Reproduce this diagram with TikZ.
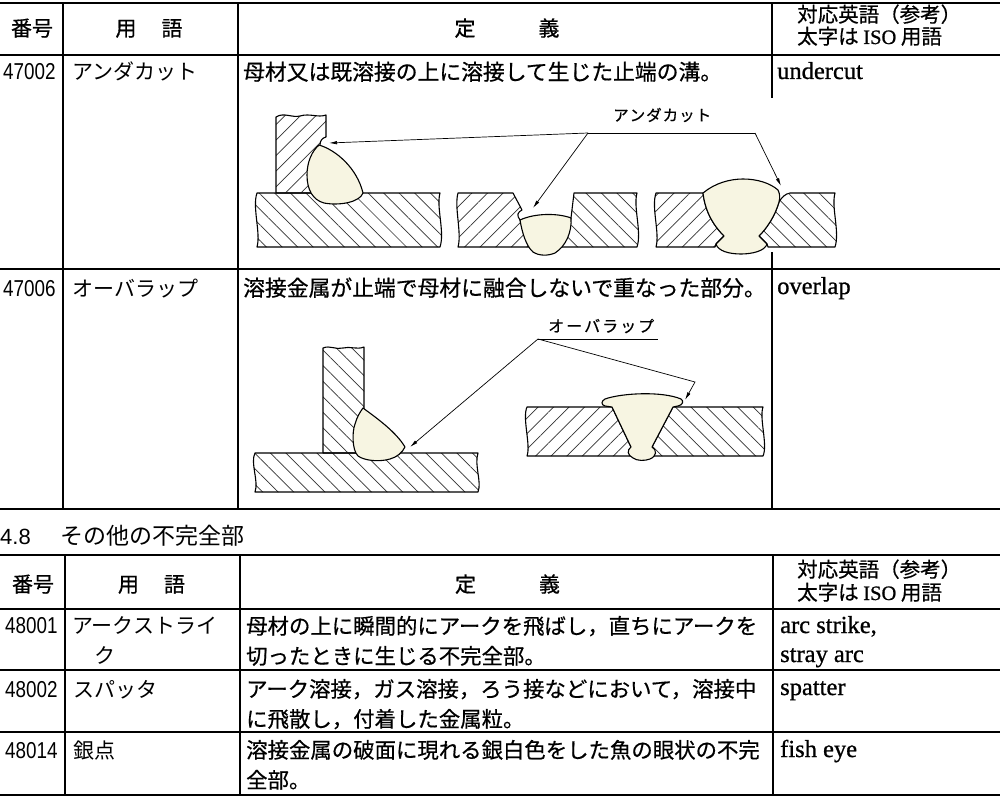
\documentclass[tikz,border=0pt]{standalone}
\usepackage{fontspec}
\setmainfont{Liberation Serif}
\newfontfamily\jpfont[FakeBold=0.6]{Noto Sans CJK JP}
\newfontfamily\jplfont{Noto Sans CJK JP}
\newfontfamily\enfont[FakeBold=0.9]{Liberation Serif}
\newfontfamily\numfont{Liberation Sans}
\usetikzlibrary{patterns.meta,arrows.meta}
\definecolor{weldc}{RGB}{247,245,226}
\newcommand{\spc}{\hspace{1pt}}
\newcommand{\spo}{\hspace{2pt}}
\begin{document}
\begin{tikzpicture}[x=1pt,y=-1pt,
  outl/.style={draw=black,line width=1.1pt,line join=round},
  hatchA/.style={outl,pattern={Lines[angle=45,distance=11pt,line width=0.7pt]},pattern color=black!80},
  hatchB/.style={outl,pattern={Lines[angle=-45,distance=11pt,line width=0.7pt]},pattern color=black!80},
  weld/.style={draw=black,line width=1.1pt,fill=weldc,line join=round},
  lead/.style={draw=black,line width=0.7pt},
  arr/.style={lead,-{Latex[length=8pt,width=3.5pt]}},
  rulethick/.style={line width=2pt},
  rulen/.style={line width=1.4pt},
  vrule/.style={line width=1.3pt},
  hd/.style={inner sep=0pt,anchor=base,font=\jpfont\fontsize{21}{21}\selectfont},
  hdr/.style={inner sep=0pt,anchor=base west,font=\jpfont\fontsize{20.5}{20.5}\selectfont},
  term/.style={inner sep=0pt,anchor=base west,font=\jplfont\fontsize{21}{21}\selectfont},
  deff/.style={inner sep=0pt,anchor=base west,font=\jpfont\fontsize{21.8}{21.8}\selectfont},
  deftwo/.style={inner sep=0pt,anchor=base west,font=\jpfont\fontsize{21.4}{21.4}\selectfont},
  en/.style={inner sep=0pt,anchor=base west,font=\enfont\fontsize{24.5}{24.5}\selectfont},
  num/.style={inner sep=0pt,anchor=base west,font=\numfont\fontsize{23}{23}\selectfont},
  lbl/.style={inner sep=0pt,anchor=west,font=\jpfont\fontsize{15.5}{15.5}\selectfont},
  sec/.style={inner sep=0pt,anchor=base west,font=\jplfont\fontsize{23}{23}\selectfont}
]
\useasboundingbox (0,0) rectangle (1000,805);
\fill[white] (0,0) rectangle (1000,805);

% ===== Table 1 rules =====
\draw[rulethick] (0,3) -- (1000,3);
\draw[rulen] (0,55) -- (1000,55);
\draw[rulen] (0,269) -- (1000,269);
\draw[rulen] (0,509) -- (1000,509);
\draw[vrule] (63,3) -- (63,509);
\draw[vrule] (238,3) -- (238,509);
\draw[vrule] (772,3) -- (772,98);
\draw[vrule] (772,252) -- (772,509);

% header 1
\node[hd] (h1n) at (32,36) {番号};
\node[hd] (h1t) at (149,36) {用\hspace{25pt}語};
\node[hd] (h1d) at (507,36) {定\hspace{63pt}義};
\node[hdr] (h1e1) at (797,22) {対応英語（参考）};
\node[hdr] (h1e2) at (797,44) {太字は {\enfont ISO} 用語};

% row 47002
\node[num] (n1) at (3,80) {\scalebox{0.82}[1]{47002}};
\node[term] (t1) at (72,80) {アンダカット};
\node[deff] (d1) at (243,80) {母材又は既溶接の上に溶接して生じた止端の溝。};
\node[en] (e1) at (777,79) {undercut};

% row 47006
\node[num] (n2) at (3,296) {\scalebox{0.82}[1]{47006}};
\node[term] (t2) at (72,296) {オーバラップ};
\node[deff] (d2) at (243,296) {溶接金属が止端で母材に融合しないで重なった部分。};
\node[en] (e2) at (777,294) {overlap};

% ===== Figure A : T joint undercut =====
\draw[hatchB] (257,193) -- (440,193) .. controls (436,207) and (445,232) .. (440,247) -- (257,247) .. controls (261,233) and (252,207) .. (257,193) -- cycle;
\draw[hatchA] (276,193) -- (276,117) .. controls (284,112) and (292,118) .. (300,116) .. controls (310,113) and (318,118) .. (326,115) -- (326,137) .. controls (322,138) and (320,141) .. (320,145) -- (312,165) -- (314,193) -- cycle;
\draw[weld] (319,145) .. controls (336,150) and (357,168) .. (363,193) .. controls (360,202) and (340,206) .. (324,203) .. controls (313,200) and (307,190) .. (307,175) .. controls (307,162) and (312,151) .. (319,145) -- cycle;

% ===== Figure B : single V undercut =====
\draw[hatchA] (458,193) -- (513,193) -- (522,210) .. controls (518,212) and (516,215) .. (520,220) -- (525,235) -- (529,247) -- (458,247) .. controls (462,233) and (454,207) .. (458,193) -- cycle;
\draw[hatchB] (574,193) -- (637,193) .. controls (633,207) and (642,232) .. (637,247) -- (560,247) -- (567,232) -- (571,218) -- cycle;
\draw[weld] (520,220) .. controls (535,213) and (558,213) .. (571,218) .. controls (572,232) and (566,246) .. (555,253) .. controls (548,256) and (539,256) .. (533,252) .. controls (526,246) and (522,232) .. (520,220) -- cycle;

% ===== Figure C : X groove undercut =====
\draw[hatchA] (656,193) -- (703,193) .. controls (705,210) and (712,224) .. (724,236) -- (716,244) -- (715,247) -- (656,247) .. controls (660,233) and (651,207) .. (656,193) -- cycle;
\draw[hatchB] (790,193) -- (835,193) .. controls (831,207) and (840,232) .. (835,247) -- (768,247) -- (767,244) -- (759,236) .. controls (767,228) and (775,216) .. (779,202) .. controls (782,197) and (785,194) .. (790,193) -- cycle;
\draw[weld] (703,193) .. controls (715,183) and (730,179) .. (743,179) .. controls (757,179) and (770,183) .. (778,190) .. controls (780,194) and (780,198) .. (779,202) .. controls (775,216) and (767,228) .. (759,236) -- (767,244) .. controls (765,251) and (752,254) .. (741,254) .. controls (729,254) and (718,251) .. (716,244) -- (724,236) .. controls (712,224) and (705,210) .. (703,193) -- cycle;

% leaders undercut
\node[lbl] (lu) at (613,115) {ア\spc ン\spc ダ\spc カ\spc ッ\spc ト};
\coordinate (uj) at (588,133);
\coordinate (ue) at (755,133);
\coordinate (tA) at (329,143);
\coordinate (tB) at (533,208);
\coordinate (tC) at (781,186);
\draw[lead] (uj) -- (ue);
\draw[arr] (uj) -- (tA);
\draw[arr] (uj) -- (tB);
\draw[arr] (ue) -- (tC);

% ===== Figure D : T joint overlap =====
\draw[hatchB] (255,453) -- (478,453) .. controls (474,465) and (482,482) .. (478,492) -- (255,492) .. controls (259,481) and (250,463) .. (255,453) -- cycle;
\draw[hatchB] (323,453) -- (323,348) .. controls (330,345) and (336,350) .. (343,348) .. controls (350,346) and (357,350) .. (364,347) -- (364,408) -- (357,430) -- (359,453) -- cycle;
\draw[weld] (363,408) .. controls (378,419) and (396,432) .. (405,447) .. controls (402,453) and (397,457) .. (390,459) .. controls (380,462) and (365,461) .. (358,456) .. controls (352,450) and (352,432) .. (355,424) .. controls (357,417) and (360,412) .. (363,408) -- cycle;

% ===== Figure E : butt overlap =====
\draw[hatchA] (527,407) -- (612,407) -- (631,447) -- (630,456) -- (527,456) .. controls (531,445) and (522,418) .. (527,407) -- cycle;
\draw[hatchB] (673,407) -- (763,407) .. controls (759,418) and (768,445) .. (763,456) -- (653,456) -- (652,447) -- cycle;
\draw[weld] (612,407) -- (605,406) .. controls (601,405) and (601,401) .. (605,399) .. controls (622,393) and (662,391) .. (681,399) .. controls (684,401) and (683,405) .. (678,406) -- (673,407) -- (652,447) .. controls (657,450) and (657,456) .. (650,459) .. controls (645,461) and (637,461) .. (633,458) .. controls (627,455) and (627,450) .. (631,447) -- cycle;

% leaders overlap
\node[lbl,font=\jpfont\fontsize{16}{16}\selectfont] (lo) at (548,326) {オ\spo ー\spo バ\spo ラ\spo ッ\spo プ};
\coordinate (oj) at (538,339);
\coordinate (oe) at (658,339);
\coordinate (ob) at (695,382);
\coordinate (tD) at (410,447);
\coordinate (tE) at (685,400);
\draw[lead] (oj) -- (oe);
\draw[arr] (oj) -- (tD);
\draw[arr] (oj) -- (ob) -- (tE);

% ===== Section heading =====
\node[sec,font=\numfont\fontsize{22}{22}\selectfont] (s1) at (0,544) {4.8};
\node[sec] (s2) at (60,544) {その他の不完全部};

% ===== Table 2 rules =====
\draw[rulethick] (0,555) -- (1000,555);
\draw[rulen] (0,609) -- (1000,609);
\draw[rulen] (0,670) -- (1000,670);
\draw[rulen] (0,732) -- (1000,732);
\draw[rulethick] (0,795) -- (1000,795);
\draw[vrule] (65,555) -- (65,795);
\draw[vrule] (240,555) -- (240,795);
\draw[vrule] (773,555) -- (773,795);

\node[hd] (h2n) at (33,592) {番号};
\node[hd] (h2t) at (151.5,592) {用\hspace{25pt}語};
\node[hd] (h2d) at (507.5,592) {定\hspace{63pt}義};
\node[hdr] (h2e1) at (797,577) {対応英語（参考）};
\node[hdr] (h2e2) at (797,600) {太字は {\enfont ISO} 用語};

% row 48001
\node[num] (n3) at (5,633) {\scalebox{0.82}[1]{48001}};
\node[term] (t3a) at (72,633) {アークストライ};
\node[term] (t3b) at (94,663) {ク};
\node[deftwo] (d3a) at (246,634) {母材の上に瞬間的にアークを飛ばし，直ちにアークを};
\node[deftwo] (d3b) at (246,664) {切ったときに生じる不完全部。};
\node[en] (e3a) at (780,633) {arc strike,};
\node[en] (e3b) at (780,662) {stray arc};

% row 48002
\node[num] (n4) at (5,697) {\scalebox{0.82}[1]{48002}};
\node[term] (t4) at (73,697) {スパッタ};
\node[deftwo] (d4a) at (246,697) {アーク溶接，ガス溶接，ろう接などにおいて，溶接中};
\node[deftwo] (d4b) at (246,727) {に飛散し，付着した金属粒。};
\node[en] (e4) at (780,695) {spatter};

% row 48014
\node[num] (n5) at (5,758) {\scalebox{0.82}[1]{48014}};
\node[term] (t5) at (73,758) {銀点};
\node[deftwo] (d5a) at (246,758) {溶接金属の破面に現れる銀白色をした魚の眼状の不完};
\node[deftwo] (d5b) at (246,788) {全部。};
\node[en] (e5) at (780,757) {fish eye};
\end{tikzpicture}
\end{document}
